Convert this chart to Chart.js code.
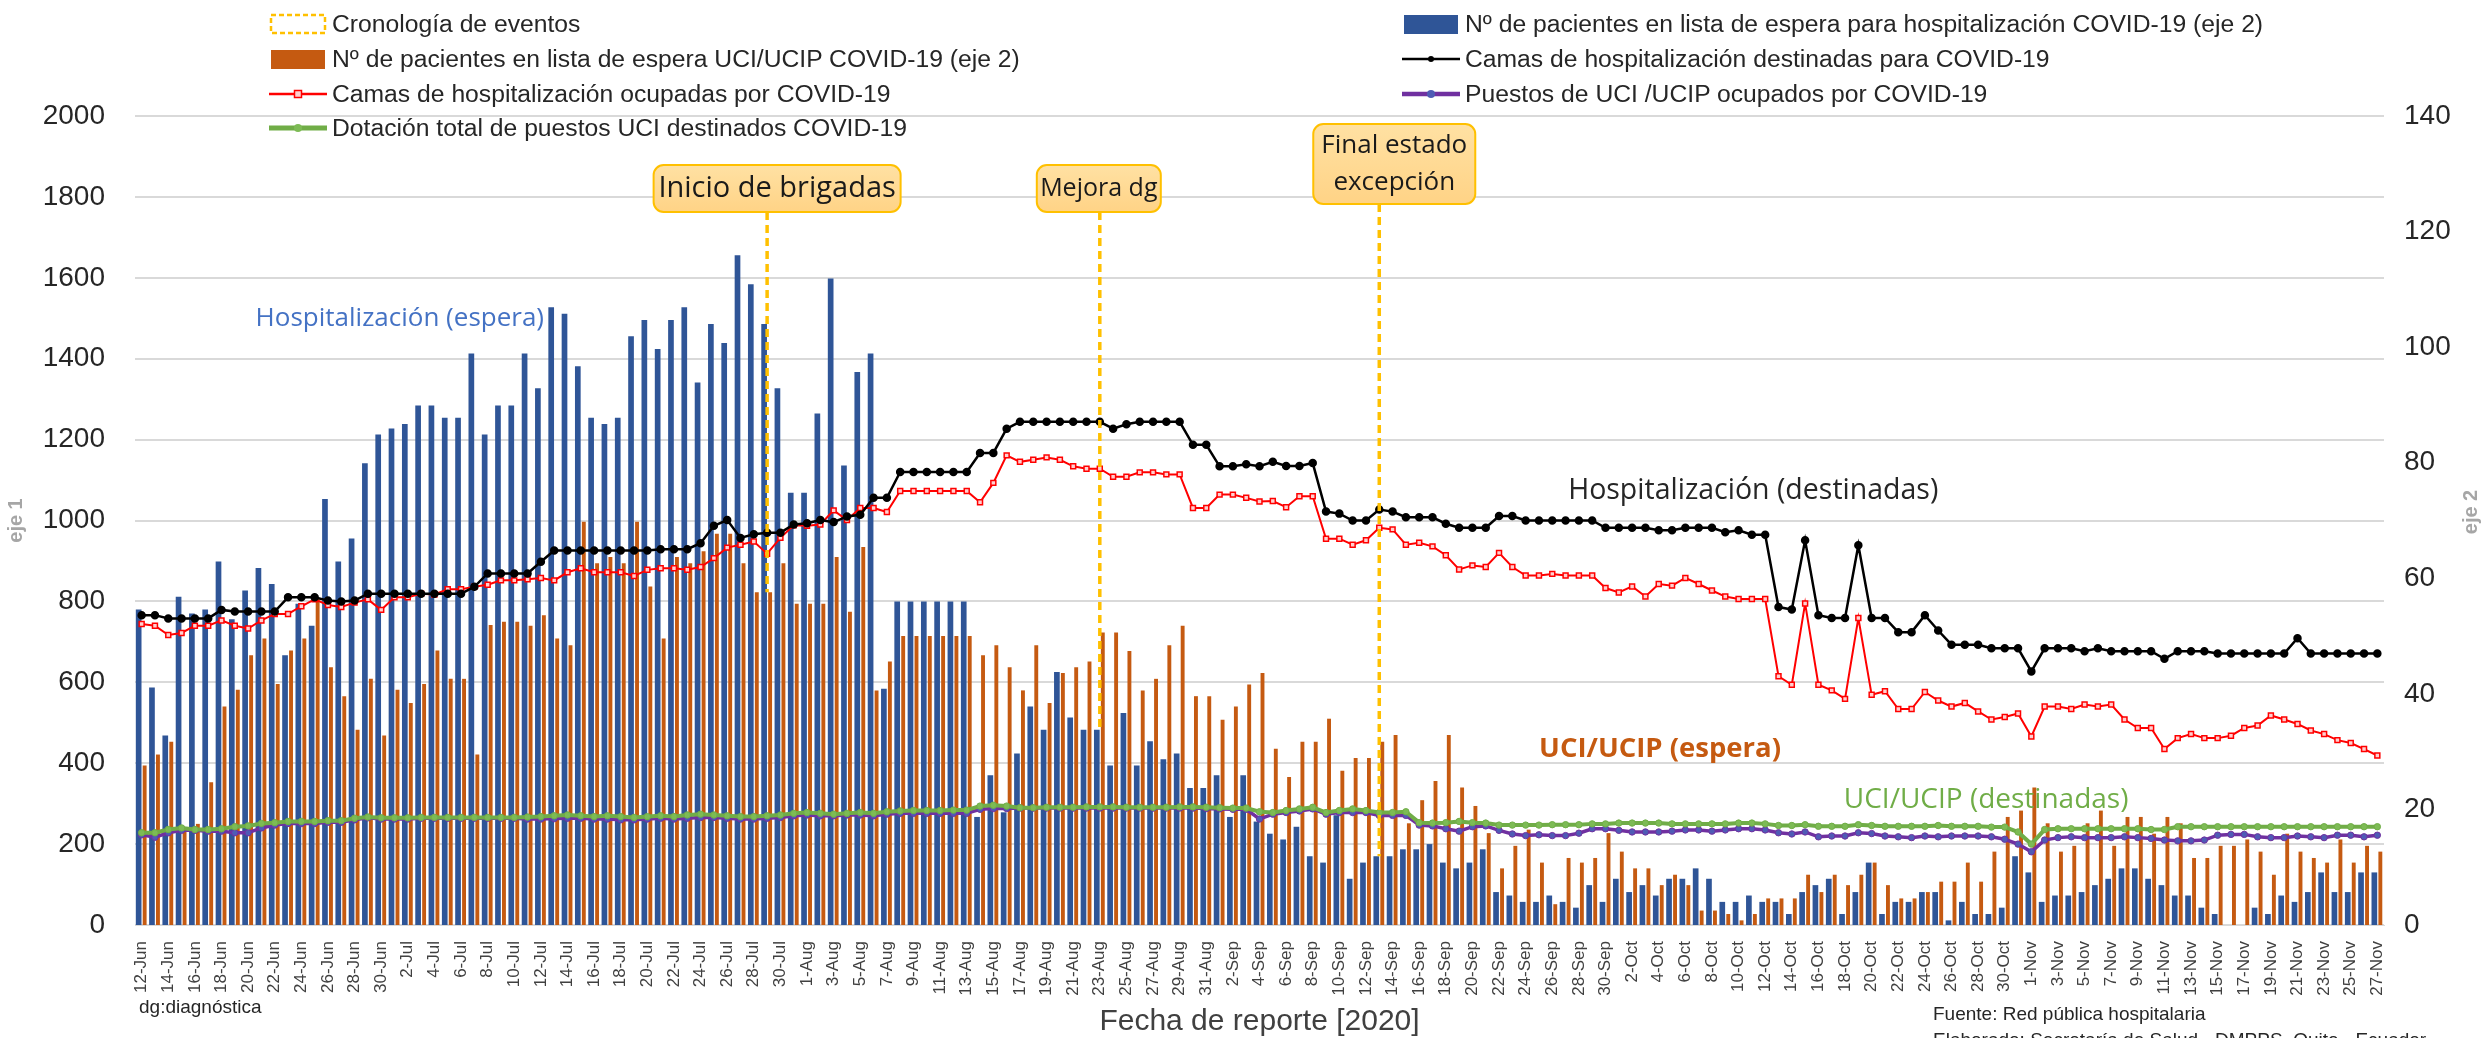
<!DOCTYPE html>
<html lang="es">
<head>
<meta charset="utf-8">
<title>Camas y lista de espera COVID-19</title>
<script src="https://cdn.jsdelivr.net/npm/chart.js@4.4.1/dist/chart.umd.min.js"></script>
<style>
  html, body { margin: 0; background: #fff; }
  #wrap { position: relative; width: 2484px; height: 1038px; overflow: hidden; font-family: "Liberation Sans", Arial, sans-serif; color: #262626; }
  #chart { position: absolute; left: 0; top: 0; }
  .leg { position: absolute; height: 26px; display: flex; align-items: center; font-size: 24.7px; white-space: nowrap; }
  .leg svg { margin-right: 5px; flex: none; }
  .note { position: absolute; white-space: nowrap; }
</style>
</head>
<body>
<div id="wrap">
  <canvas id="chart" width="2484" height="1038"></canvas>
  <div id="legend"></div>
  <div class="note" style="left:139px;top:996px;font-size:19px">dg:diagnóstica</div>
  <div class="note" style="left:135px;width:2249px;top:1003px;font-size:30px;color:#404040;text-align:center">Fecha de reporte [2020]</div>
  <div class="note" style="left:1933px;top:1003px;font-size:19px">Fuente: Red pública hospitalaria</div>
  <div class="note" style="left:1933px;top:1029px;font-size:19px">Elaborado: Secretaría de Salud - DMPPS, Quito - Ecuador</div>
</div>

<script>
// Fechas de reporte: 12-Jun a 27-Nov 2020
const meses = [['Jun', 12, 30], ['Jul', 1, 31], ['Aug', 1, 31], ['Sep', 1, 30], ['Oct', 1, 31], ['Nov', 1, 27]];
const fechas = [];
meses.forEach(([m, d0, d1]) => { for (let d = d0; d <= d1; d++) fechas.push(d + '-' + m); });

// Lista de espera hospitalización (eje 2)
const esperaHosp = [
  54.6, 41.1, 32.8, 56.8, 53.9, 54.6, 62.9, 52.9, 57.9, 61.8,
  59.0, 46.7, 55.6, 51.8, 73.7, 62.9, 66.9, 79.9, 84.9, 85.9,
  86.7, 89.9, 89.9, 87.8, 87.8, 98.9, 84.9, 89.9, 89.9, 98.9,
  92.9, 106.9, 105.8, 96.7, 87.8, 86.7, 87.8, 101.9, 104.7, 99.7,
  104.7, 106.9, 93.9, 104.0, 100.7, 115.9, 110.9, 104.0, 92.9, 74.8,
  74.8, 88.5, 111.9, 79.5, 95.7, 98.9, 40.9, 56, 56, 56,
  56, 56, 56, 18.7, 25.9, 19.5, 29.7, 37.8, 33.8, 43.8,
  35.9, 33.8, 33.8, 27.6, 36.7, 27.6, 31.8, 28.7, 29.7, 23.7,
  23.7, 25.9, 18.7, 25.9, 17.9, 15.8, 14.8, 17.0, 11.9, 10.8,
  19.0, 8.0, 10.8, 11.9, 11.9, 13.1, 13.1, 14.0, 10.8, 9.8,
  10.8, 13.1, 5.7, 5.1, 4.0, 4.0, 5.1, 4.0, 3.0, 6.9,
  4.0, 8.0, 5.7, 6.9, 5.1, 8.0, 8.0, 9.8, 8.0, 4.0,
  4.0, 5.1, 4.0, 4.0, 1.9, 5.7, 6.9, 8.0, 1.9, 5.7,
  10.8, 1.9, 4.0, 4.0, 5.7, 5.7, 0.8, 4.0, 1.9, 1.9,
  3.0, 11.9, 9.1, 4.0, 5.1, 5.1, 5.7, 6.9, 8.0, 9.8,
  9.8, 8.0, 6.9, 5.1, 5.1, 3.0, 1.9, 0, 0, 3.0,
  1.9, 5.1, 4.0, 5.7, 9.1, 5.7, 5.7, 9.1, 9.1
];

// Lista de espera UCI/UCIP (eje 2)
const esperaUci = [
  27.6, 29.5, 31.7, 16.8, 17.5, 24.7, 37.8, 40.7, 46.7, 49.6,
  41.7, 47.5, 49.6, 56.6, 44.6, 39.6, 33.8, 42.6, 32.8, 40.7,
  38.4, 41.7, 47.5, 42.6, 42.6, 29.5, 51.9, 52.5, 52.5, 51.8,
  53.6, 49.6, 48.4, 69.8, 62.6, 63.7, 62.6, 69.8, 58.6, 49.6,
  63.7, 62.6, 64.7, 67.7, 67.7, 62.6, 57.6, 57.6, 62.6, 55.6,
  55.6, 55.6, 63.7, 54.2, 65.4, 40.6, 45.6, 50, 50, 50,
  50, 50, 50, 46.7, 48.4, 44.6, 40.6, 48.4, 38.4, 43.6,
  44.6, 45.6, 50.6, 50.6, 47.4, 40.6, 42.6, 48.4, 51.8, 39.6,
  39.6, 35.5, 37.8, 41.6, 43.6, 30.5, 25.6, 31.7, 31.7, 35.7,
  26.7, 28.9, 28.9, 31.7, 32.9, 17.6, 21.6, 24.9, 32.9, 23.8,
  20.6, 15.9, 9.8, 13.7, 16.5, 10.8, 3.6, 11.6, 10.8, 11.6,
  15.9, 12.7, 9.8, 9.8, 6.9, 8.7, 6.9, 2.5, 2.5, 1.9,
  0.8, 1.9, 4.6, 4.6, 4.6, 8.7, 5.7, 8.7, 6.9, 8.7,
  10.8, 6.9, 4.6, 4.6, 5.7, 7.5, 7.5, 10.8, 7.5, 12.7,
  18.7, 19.8, 23.8, 17.6, 12.7, 13.7, 17.6, 19.8, 13.7, 18.7,
  18.7, 15.8, 18.7, 17.6, 11.6, 11.6, 13.7, 13.7, 14.8, 12.7,
  8.7, 15.8, 12.7, 11.6, 10.8, 14.8, 10.8, 13.7, 12.7
];

// Camas de hospitalización destinadas (eje 1)
const camasDestinadas = [
  766, 766, 758, 758, 758, 758, 779, 775, 775, 775,
  775, 810, 810, 810, 802, 800, 802, 819, 819, 819,
  819, 819, 819, 819, 819, 836, 869, 869, 869, 869,
  898, 926, 926, 926, 926, 926, 926, 926, 926, 929,
  929, 929, 944, 987, 1001, 957, 966, 970, 970, 990,
  993, 1001, 996, 1010, 1014, 1056, 1056, 1120, 1120, 1120,
  1120, 1120, 1120, 1167, 1167, 1227, 1244, 1244, 1244, 1244,
  1244, 1244, 1244, 1227, 1238, 1244, 1244, 1244, 1244, 1187,
  1187, 1134, 1134, 1139, 1134, 1145, 1135, 1135, 1142, 1022,
  1017, 1000, 1000, 1027, 1022, 1008, 1008, 1008, 992, 982,
  982, 982, 1011, 1011, 1000, 1000, 1000, 1000, 1000, 1000,
  982, 982, 982, 982, 976, 976, 982, 982, 982, 971,
  976, 965, 965, 786, 780, 951, 766, 759, 759, 939,
  759, 759, 724, 724, 766, 728, 693, 693, 693, 684,
  684, 684, 627, 684, 684, 684, 677, 684, 677, 677,
  677, 677, 658, 677, 677, 677, 671, 671, 671, 671,
  671, 671, 709, 671, 671, 671, 671, 671, 671
];

// Camas de hospitalización ocupadas (eje 1)
const camasOcupadas = [
  744, 740, 717, 722, 740, 740, 753, 740, 733, 753,
  769, 769, 788, 805, 791, 786, 797, 805, 779, 810,
  810, 819, 817, 830, 830, 836, 841, 852, 852, 855,
  858, 852, 872, 882, 872, 872, 872, 863, 878, 882,
  882, 878, 885, 907, 933, 940, 948, 918, 957, 988,
  987, 990, 1025, 1001, 1031, 1031, 1021, 1073, 1073, 1073,
  1073, 1073, 1073, 1045, 1093, 1161, 1145, 1150, 1156, 1150,
  1134, 1128, 1128, 1108, 1108, 1119, 1119, 1114, 1114, 1031,
  1031, 1064, 1064, 1056, 1047, 1048, 1033, 1060, 1060, 955,
  955, 940, 951, 982, 978, 940, 945, 936, 914, 879,
  889, 885, 920, 885, 864, 864, 868, 864, 864, 864,
  833, 822, 837, 812, 843, 839, 858, 843, 827, 812,
  806, 806, 806, 615, 594, 795, 594, 580, 559, 759,
  569, 578, 534, 534, 576, 555, 540, 549, 528, 508,
  514, 523, 466, 540, 540, 534, 545, 540, 545, 508,
  487, 487, 435, 462, 472, 462, 462, 468, 487, 493,
  518, 508, 497, 481, 472, 457, 450, 435, 419
];

// Dotación total de puestos UCI (eje 1)
const uciDotacion = [
  228, 228, 236, 240, 236, 236, 238, 243, 245, 251,
  253, 256, 256, 256, 258, 258, 264, 267, 265, 265,
  265, 266, 266, 266, 266, 266, 266, 266, 266, 267,
  268, 270, 272, 270, 268, 270, 268, 266, 268, 270,
  268, 272, 274, 272, 270, 268, 268, 270, 272, 276,
  278, 276, 274, 276, 278, 276, 280, 282, 283, 283,
  283, 284, 284, 294, 296, 294, 290, 290, 291, 291,
  291, 292, 292, 292, 291, 291, 291, 291, 292, 292,
  291, 290, 289, 289, 280, 278, 283, 287, 291, 278,
  283, 287, 283, 278, 278, 280, 253, 252, 253, 256,
  253, 252, 247, 247, 247, 247, 248, 248, 248, 250,
  250, 252, 252, 252, 252, 250, 250, 250, 250, 250,
  252, 252, 250, 246, 246, 248, 244, 244, 244, 248,
  246, 244, 244, 244, 244, 246, 244, 244, 244, 242,
  242, 230, 200, 236, 238, 238, 238, 238, 238, 238,
  238, 236, 236, 243, 243, 243, 243, 243, 243, 243,
  243, 243, 243, 243, 243, 243, 243, 243, 243
];

// Puestos UCI/UCIP ocupados (eje 1)
const uciOcupados = [
  223, 217, 228, 234, 234, 232, 232, 228, 228, 240,
  247, 251, 251, 251, 254, 254, 260, 265, 262, 262,
  262, 264, 264, 264, 264, 264, 264, 264, 264, 262,
  262, 263, 264, 264, 262, 262, 260, 260, 262, 264,
  262, 264, 266, 266, 264, 262, 262, 264, 266, 270,
  272, 270, 270, 272, 272, 270, 274, 276, 276, 276,
  276, 276, 276, 286, 288, 288, 289, 289, 289, 289,
  289, 289, 289, 289, 289, 289, 289, 289, 289, 289,
  288, 287, 286, 286, 262, 274, 278, 282, 287, 274,
  278, 278, 278, 271, 271, 271, 247, 245, 238, 232,
  243, 245, 234, 225, 221, 223, 221, 221, 227, 238,
  238, 234, 230, 230, 230, 232, 235, 235, 232, 235,
  238, 238, 235, 228, 225, 230, 218, 220, 220, 228,
  226, 220, 218, 216, 220, 218, 220, 220, 220, 218,
  212, 200, 181, 210, 216, 218, 216, 216, 216, 218,
  216, 214, 210, 208, 208, 210, 222, 224, 224, 218,
  216, 216, 220, 218, 216, 222, 222, 218, 222
];

// Cronología de eventos
const eventoFechas = ['29-Jul', '23-Aug', '13-Sep'];
const eventoTextos = [['Inicio de brigadas'], ['Mejora dg'], ['Final estado', 'excepción']];

// ---- estilos ----
const AZUL = '#2F5597', NARANJA = '#C55A11', ROJO = '#FF0000', VERDE = '#70AD47', MORADO = '#7030A0', ORO = '#FFC000';

// cajas de eventos: desplazamiento horizontal, top, alto, ancho, tamaño de letra (px)
const cajas = [
  { dx: 10, top: 165, h: 47, w: 247, fs: 29 },
  { dx: -1, top: 165, h: 47, w: 124, fs: 25 },
  { dx: 15, top: 124, h: 80, w: 162, fs: 26 }
];

// etiquetas dentro del gráfico (posición en unidades del eje 1)
const etiquetas = [
  { t: 'Hospitalización (espera)', i: 19.4, v: 1500, c: '#4472C4', bold: false, fs: 26 },
  { t: 'Hospitalización (destinadas)', i: 121.1, v: 1073, c: '#262626', bold: false, fs: 28.5 },
  { t: 'UCI/UCIP (espera)', i: 114.1, v: 435, c: NARANJA, bold: true, fs: 27.5 },
  { t: 'UCI/UCIP (destinadas)', i: 138.6, v: 309, c: VERDE, bold: false, fs: 28 }
];

function roundRect(ctx, x, y, w, h, r) {
  ctx.beginPath();
  ctx.moveTo(x + r, y);
  ctx.arcTo(x + w, y, x + w, y + h, r);
  ctx.arcTo(x + w, y + h, x, y + h, r);
  ctx.arcTo(x, y + h, x, y, r);
  ctx.arcTo(x, y, x + w, y, r);
  ctx.closePath();
}

const anotaciones = {
  id: 'anotaciones',
  afterDatasetsDraw(chart) {
    const { ctx, scales: { x, y, y2 } } = chart;
    ctx.save();

    // etiquetas de series
    etiquetas.forEach(e => {
      ctx.font = (e.bold ? 'bold ' : '') + e.fs + 'px "Open Sans"';
      ctx.fillStyle = e.c;
      ctx.textAlign = 'center';
      ctx.textBaseline = 'middle';
      ctx.fillText(e.t, x.getPixelForValue(e.i), y.getPixelForValue(e.v));
    });

    // líneas y cajas de eventos
    eventoFechas.forEach((f, k) => {
      const i = fechas.indexOf(f);
      const px = x.getPixelForValue(i);
      const b = cajas[k];
      const fin = y2.getPixelForValue(Math.min(esperaHosp[i], esperaUci[i]));
      ctx.strokeStyle = ORO;
      ctx.lineWidth = 3.5;
      ctx.setLineDash([8, 5]);
      ctx.beginPath();
      ctx.moveTo(px, b.top + b.h);
      ctx.lineTo(px, fin);
      ctx.stroke();
      ctx.setLineDash([]);

      const bx = px + b.dx - b.w / 2;
      const grad = ctx.createLinearGradient(0, b.top, 0, b.top + b.h);
      grad.addColorStop(0, '#FFE1A3');
      grad.addColorStop(1, '#FFD386');
      roundRect(ctx, bx, b.top, b.w, b.h, 10);
      ctx.fillStyle = grad;
      ctx.fill();
      ctx.lineWidth = 2;
      ctx.strokeStyle = ORO;
      ctx.stroke();

      ctx.fillStyle = '#1A1A1A';
      ctx.font = b.fs + 'px "Open Sans"';
      ctx.textAlign = 'center';
      ctx.textBaseline = 'middle';
      const lines = eventoTextos[k];
      const lh = 37;
      lines.forEach((t, j) => {
        ctx.fillText(t, px + b.dx, b.top + b.h / 2 + (j - (lines.length - 1) / 2) * lh);
      });
    });

    // título eje 2 (leído de abajo hacia arriba)
    ctx.translate(2471, 512);
    ctx.rotate(-Math.PI / 2);
    ctx.font = 'bold 20px "Liberation Sans"';
    ctx.fillStyle = '#A6A6A6';
    ctx.textAlign = 'center';
    ctx.textBaseline = 'middle';
    ctx.fillText('eje 2', 0, 0);
    ctx.restore();
  }
};

const chart = new Chart(document.getElementById('chart'), {
  data: {
    labels: fechas,
    datasets: [
      {
        type: 'line', label: 'Camas de hospitalización destinadas para COVID-19', data: camasDestinadas, yAxisID: 'y',
        borderColor: '#000', borderWidth: 2.5, pointRadius: 3, pointBackgroundColor: '#000', pointBorderColor: '#000', order: 1
      },
      {
        type: 'line', label: 'Camas de hospitalización ocupadas por COVID-19', data: camasOcupadas, yAxisID: 'y',
        borderColor: ROJO, borderWidth: 2, pointStyle: 'rect', pointRadius: 3.5, pointBackgroundColor: '#FFD0D0',
        pointBorderColor: ROJO, pointBorderWidth: 1.5, order: 1
      },
      {
        type: 'line', label: 'Dotación total de puestos UCI destinados COVID-19', data: uciDotacion, yAxisID: 'y',
        borderColor: VERDE, borderWidth: 4, pointRadius: 3.2, pointBorderWidth: 1, pointBackgroundColor: '#7DBB55', pointBorderColor: VERDE, order: 2
      },
      {
        type: 'line', label: 'Puestos de UCI /UCIP ocupados por COVID-19', data: uciOcupados, yAxisID: 'y',
        borderColor: MORADO, borderWidth: 3.5, pointRadius: 3.2, pointBorderWidth: 1, pointBackgroundColor: '#4F5BB5', pointBorderColor: MORADO, order: 3
      },
      {
        type: 'bar', label: 'Nº de pacientes en lista de espera para hospitalización COVID-19 (eje 2)', data: esperaHosp, yAxisID: 'y2',
        backgroundColor: AZUL, barPercentage: 0.95, categoryPercentage: 0.9, order: 5
      },
      {
        type: 'bar', label: 'Nº de pacientes en lista de espera UCI/UCIP COVID-19 (eje 2)', data: esperaUci, yAxisID: 'y2',
        backgroundColor: NARANJA, barPercentage: 0.65, categoryPercentage: 0.9, order: 5
      }
    ]
  },
  options: {
    responsive: false,
    animation: false,
    devicePixelRatio: 1,
    layout: { padding: { top: 116, left: 0, right: 0, bottom: 0 } },
    plugins: { legend: { display: false }, tooltip: { enabled: false } },
    scales: {
      x: {
        grid: { display: false },
        border: { color: '#D9D9D9' },
        ticks: {
          autoSkip: false, minRotation: 90, maxRotation: 90, padding: 8,
          color: '#404040', font: { size: 17, family: '"Liberation Sans"' },
          callback: (v, i) => (i % 2 === 0 ? fechas[i] : '')
        },
        afterFit: s => { s.height = 113; }
      },
      y: {
        position: 'left', min: 0, max: 2000,
        ticks: { stepSize: 200, padding: 30, color: '#262626', font: { size: 28, family: '"Liberation Sans"' }, callback: v => String(v) },
        grid: { color: '#D9D9D9', lineWidth: 2, drawTicks: false },
        border: { display: false },
        title: { display: true, text: 'eje 1', color: '#A6A6A6', font: { size: 20, weight: 'bold', family: '"Liberation Sans"' } },
        afterFit: s => { s.width = 135; }
      },
      y2: {
        position: 'right', min: 0, max: 140,
        ticks: { stepSize: 20, padding: 20, color: '#262626', font: { size: 28, family: '"Liberation Sans"' }, callback: v => String(v) },
        grid: { display: false, drawTicks: false },
        border: { display: false },
        afterFit: s => { s.width = 100; }
      }
    }
  },
  plugins: [anotaciones]
});

// ---- leyenda en dos columnas ----
const ds = chart.data.datasets;
function svgLinea(color, w, marker) {
  return '<svg width="58" height="22"><line x1="0" y1="11" x2="58" y2="11" stroke="' + color + '" stroke-width="' + w + '"/>' + marker + '</svg>';
}
const leyenda = [
  { left: 269, row: 0, sym: '<svg width="58" height="22"><rect x="2" y="2" width="54" height="18" fill="none" stroke="' + ORO + '" stroke-width="2.5" stroke-dasharray="5 3"/></svg>', text: 'Cronología de eventos' },
  { left: 269, row: 1, sym: '<svg width="58" height="22"><rect x="2" y="2" width="54" height="19" fill="' + NARANJA + '"/></svg>', text: ds[5].label },
  { left: 269, row: 2, sym: svgLinea(ROJO, 2.5, '<rect x="25.5" y="7.5" width="7" height="7" fill="#FFD0D0" stroke="' + ROJO + '" stroke-width="1.5"/>'), text: ds[1].label },
  { left: 269, row: 3, sym: svgLinea(VERDE, 5, '<circle cx="29" cy="11" r="4" fill="#7DBB55"/>'), text: ds[2].label },
  { left: 1402, row: 0, sym: '<svg width="58" height="22"><rect x="2" y="2" width="54" height="19" fill="' + AZUL + '"/></svg>', text: ds[4].label },
  { left: 1402, row: 1, sym: svgLinea('#000', 2.5, '<circle cx="29" cy="11" r="3" fill="#000"/>'), text: ds[0].label },
  { left: 1402, row: 2, sym: svgLinea(MORADO, 4.5, '<circle cx="29" cy="11" r="4" fill="#4F5BB5"/>'), text: ds[3].label }
];
const filas = [24, 59, 94, 128];
const cont = document.getElementById('legend');
leyenda.forEach(it => {
  const d = document.createElement('div');
  d.className = 'leg';
  d.style.left = it.left + 'px';
  d.style.top = (filas[it.row] - 13) + 'px';
  d.innerHTML = it.sym + '<span>' + it.text + '</span>';
  cont.appendChild(d);
});
</script>
</body>
</html>
